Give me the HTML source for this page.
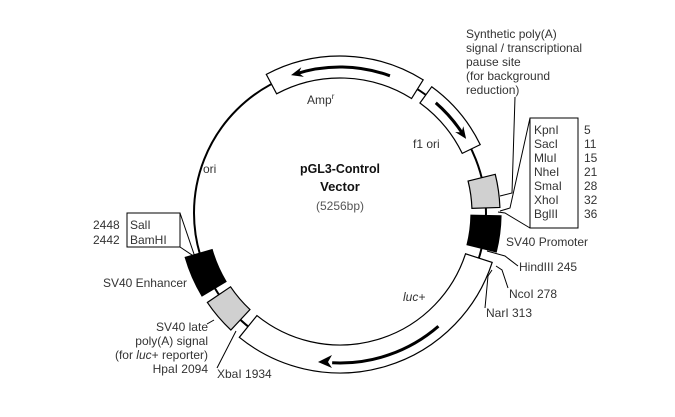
<!DOCTYPE html>
<html><head><meta charset="utf-8"><style>
html,body{margin:0;padding:0;background:#fff;}
svg{display:block;font-family:"Liberation Sans",Arial,sans-serif;}
</style></head><body>
<svg id="s" width="675" height="417" viewBox="0 0 675 417" xmlns="http://www.w3.org/2000/svg">
<g id="g" fill="none" stroke="#000" stroke-width="1.5"></g>
<g font-size="12" fill="#333">
<text x="307" y="104">Amp<tspan font-size="8" dy="-5">r</tspan></text>
<text x="413" y="148">f1 ori</text>
<text x="203" y="173">ori</text>
<text x="340" y="173" text-anchor="middle" font-weight="bold" font-size="13" fill="#111" textLength="80" lengthAdjust="spacingAndGlyphs">pGL3-Control</text>
<text x="340" y="191" text-anchor="middle" font-weight="bold" font-size="13" fill="#111">Vector</text>
<text x="340" y="210" text-anchor="middle" fill="#555">(5256bp)</text>
<text x="466" y="38">Synthetic poly(A)</text>
<text x="466" y="52">signal / transcriptional</text>
<text x="466" y="66">pause site</text>
<text x="466" y="80">(for background</text>
<text x="466" y="94">reduction)</text>
<text x="534" y="134">KpnI</text><text x="534" y="148">SacI</text><text x="534" y="162">MluI</text><text x="534" y="176">NheI</text><text x="534" y="190">SmaI</text><text x="534" y="204">XhoI</text><text x="534" y="218">BglII</text>
<text x="584" y="134">5</text><text x="584" y="148">11</text><text x="584" y="162">15</text><text x="584" y="176">21</text><text x="584" y="190">28</text><text x="584" y="204">32</text><text x="584" y="218">36</text>
<text x="506" y="246">SV40 Promoter</text>
<text x="519" y="271">HindIII 245</text>
<text x="509" y="298">NcoI 278</text>
<text x="486" y="317">NarI 313</text>
<text x="403" y="301" font-style="italic">luc+</text>
<text x="93" y="229">2448</text><text x="93" y="244">2442</text>
<text x="130" y="229">SalI</text><text x="130" y="244">BamHI</text>
<text x="187" y="287" text-anchor="end">SV40 Enhancer</text>
<text x="208" y="331" text-anchor="end">SV40 late</text>
<text x="208" y="345" text-anchor="end">poly(A) signal</text>
<text x="208" y="359" text-anchor="end">(for <tspan font-style="italic">luc</tspan>+ reporter)</text>
<text x="208" y="373" text-anchor="end">HpaI 2094</text>
<text x="217" y="378">XbaI 1934</text>
</g>
<g stroke="#000" stroke-width="1" fill="none">
<rect x="530" y="118" width="48" height="110"/>
<rect x="127" y="213" width="53" height="34"/>
<polyline points="515,97 512,193 500,196"/>
<polyline points="530,118 510,208 500,211"/>
<polyline points="530,228 505,213 498,212"/>
<polyline points="487,251 505,256 518,266"/>
<polyline points="496,266 502,270 508,288"/>
<polyline points="492,270 488,276 485,308"/>
<polyline points="180,213 195,257"/>
<polyline points="180,247 195,257"/>
<polyline points="207,324 214,320"/>
<polyline points="217,368 236,331"/>
</g>
<g id="top"></g>
</svg>
<script>
var cx=340,cy=213,R=146,g=document.getElementById('g');
function P(a,r){var t=a*Math.PI/180;return [cx+r*Math.sin(t),cy-r*Math.cos(t)];}
function add(tag,at){var e=document.createElementNS('http://www.w3.org/2000/svg',tag);for(var k in at)e.setAttribute(k,at[k]);g.appendChild(e);return e;}
function arc(a1,a2,r){var p=P(a2,r);return 'A'+r+' '+r+' 0 0 '+(a2>a1?1:0)+' '+p[0]+' '+p[1];}
function box(a1,a2,ri,ro,fill){var p1=P(a1,ro),p2=P(a2,ri);
 add('path',{d:'M'+p1+arc(a1,a2,ro)+' L'+p2+arc(a2,a1,ri)+'Z',fill:fill,stroke:'#000','stroke-width':1.2});}
function arrow(a1,a2,r){var p=P(a1,r),e=P(a2,r);
 add('path',{d:'M'+p+arc(a1,a2,r),'stroke-width':3});
 var d=a2>a1?1:-1,b=P(a2-d*6,r),t=[e[0]-b[0],e[1]-b[1]],L=Math.hypot(t[0],t[1]);t=[t[0]/L,t[1]/L];var n=[-t[1],t[0]];
 var tip=[e[0]+t[0]*4,e[1]+t[1]*4];
 add('path',{d:'M'+tip+' L'+(e[0]-t[0]*8+n[0]*5)+','+(e[1]-t[1]*8+n[1]*5)+' L'+(e[0]-t[0]*4)+','+(e[1]-t[1]*4)+' L'+(e[0]-t[0]*8-n[0]*5)+','+(e[1]-t[1]*8-n[1]*5)+'Z',fill:'#000',stroke:'none'});}
add('circle',{cx:cx,cy:cy,r:R,'stroke-width':2});
box(-28,32,135,157,'#fff');arrow(20,-18,146);
box(36,64,136,156,'#fff');arrow(41,58,146);
box(76,88,132,160,'#d0d0d0');
box(91,104,131,161,'#000');
box(108,219,132,160,'#fff');
var s=P(139,150),e2=P(183,150);
add('path',{d:'M'+s[0]+' '+s[1]+' A150 150 0 0 1 '+e2[0]+' '+e2[1],'stroke-width':3});
add('path',{d:'M318,362 L332,355 L328,362 L332,368 Z',fill:'#000',stroke:'none'});
box(223,236,132,160,'#d0d0d0');
box(239,254,133,161,'#000');
</script>
</body></html>
